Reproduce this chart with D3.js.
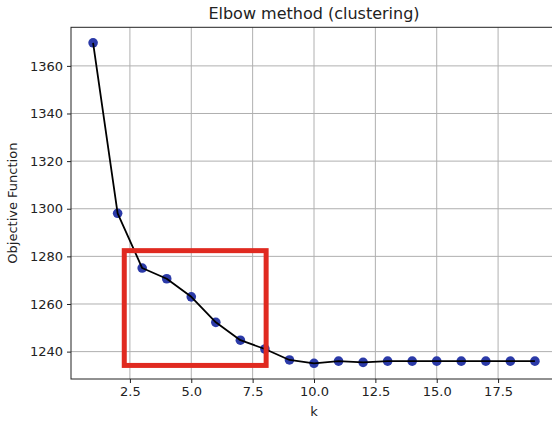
<!DOCTYPE html>
<html>
<head>
<meta charset="utf-8">
<script src="https://cdn.jsdelivr.net/npm/d3@7"></script>
<style>
  html, body { margin: 0; padding: 0; background: #fff; }
  svg { display: block; font-family: "DejaVu Sans", sans-serif; }
</style>
</head>
<body>
<svg id="chart" width="552" height="422"></svg>
<script>
const K_VALUES = [1, 2, 3, 4, 5, 6, 7, 8, 9, 10, 11, 12, 13, 14, 15, 16, 17, 18, 19];
const OBJECTIVE = [1369.7, 1298.1, 1275.1, 1270.6, 1263.0, 1252.3, 1244.8, 1241.1, 1236.5, 1235.1,
  1236.0, 1235.5, 1236.0, 1236.0, 1236.0, 1236.0, 1236.0, 1236.0, 1236.0];
const X_TICKS = [2.5, 5.0, 7.5, 10.0, 12.5, 15.0, 17.5];
const Y_TICKS = [1240, 1260, 1280, 1300, 1320, 1340, 1360];
// caixa vermelha de destaque (em coordenadas de dados)
const BOX_K = [2.27, 8.05];
const BOX_OBJ = [1234.2, 1282.4];

const MARGIN = { top: 27.3, left: 71, right: 557, bottom: 379 };

const svg = d3.select("#chart");

const x = d3.scaleLinear().domain([0.1, 19.9]).range([MARGIN.left, MARGIN.right]);
const y = d3.scaleLinear().domain([1228.5, 1376.2]).range([MARGIN.bottom, MARGIN.top]);

const data = K_VALUES.map((k, i) => ({ k, v: OBJECTIVE[i] }));

// grade
svg.append("g")
  .selectAll("line")
  .data(X_TICKS)
  .join("line")
  .attr("x1", (d) => x(d)).attr("x2", (d) => x(d))
  .attr("y1", MARGIN.top).attr("y2", MARGIN.bottom)
  .attr("stroke", "#b0b0b0").attr("stroke-width", 1);
svg.append("g")
  .selectAll("line")
  .data(Y_TICKS)
  .join("line")
  .attr("x1", MARGIN.left).attr("x2", MARGIN.right)
  .attr("y1", (d) => y(d)).attr("y2", (d) => y(d))
  .attr("stroke", "#b0b0b0").attr("stroke-width", 1);

// eixos
const xAxis = svg.append("g")
  .attr("transform", `translate(0,${MARGIN.bottom})`)
  .call(d3.axisBottom(x).tickValues(X_TICKS).tickFormat(d3.format(".1f")).tickSize(4).tickPadding(4));
const yAxis = svg.append("g")
  .attr("transform", `translate(${MARGIN.left},0)`)
  .call(d3.axisLeft(y).tickValues(Y_TICKS).tickFormat(d3.format("d")).tickSize(4).tickPadding(4));
[xAxis, yAxis].forEach((g) => {
  g.select(".domain").remove();
  g.selectAll("line").attr("stroke", "#222");
  g.selectAll("text").attr("fill", "#222").attr("font-size", 13).attr("font-family", "DejaVu Sans");
});

// moldura
svg.append("rect")
  .attr("x", MARGIN.left).attr("y", MARGIN.top)
  .attr("width", MARGIN.right - MARGIN.left).attr("height", MARGIN.bottom - MARGIN.top)
  .attr("fill", "none").attr("stroke", "#222").attr("stroke-width", 1);

// pontos e curva (a linha fica por cima dos marcadores)
svg.append("g")
  .selectAll("circle")
  .data(data)
  .join("circle")
  .attr("cx", (d) => x(d.k))
  .attr("cy", (d) => y(d.v))
  .attr("r", 4.8)
  .attr("fill", "#2b3aa8");

const line = d3.line().x((d) => x(d.k)).y((d) => y(d.v));
svg.append("path")
  .datum(data)
  .attr("d", line)
  .attr("fill", "none")
  .attr("stroke", "#000")
  .attr("stroke-width", 1.8)
  .attr("stroke-linejoin", "round");

// destaque
svg.append("rect")
  .attr("x", x(BOX_K[0])).attr("y", y(BOX_OBJ[1]))
  .attr("width", x(BOX_K[1]) - x(BOX_K[0]))
  .attr("height", y(BOX_OBJ[0]) - y(BOX_OBJ[1]))
  .attr("fill", "none")
  .attr("stroke", "#e02a20")
  .attr("stroke-width", 5);

// textos
svg.append("text")
  .attr("x", (MARGIN.left + MARGIN.right) / 2)
  .attr("y", 19)
  .attr("text-anchor", "middle")
  .attr("font-size", 16)
  .attr("fill", "#222")
  .text("Elbow method (clustering)");
svg.append("text")
  .attr("x", x(10))
  .attr("y", 416)
  .attr("text-anchor", "middle")
  .attr("font-size", 13)
  .attr("fill", "#222")
  .text("k");
svg.append("text")
  .attr("transform", `translate(17,${(MARGIN.top + MARGIN.bottom) / 2}) rotate(-90)`)
  .attr("text-anchor", "middle")
  .attr("font-size", 13)
  .attr("fill", "#222")
  .text("Objective Function");
</script>
</body>
</html>
